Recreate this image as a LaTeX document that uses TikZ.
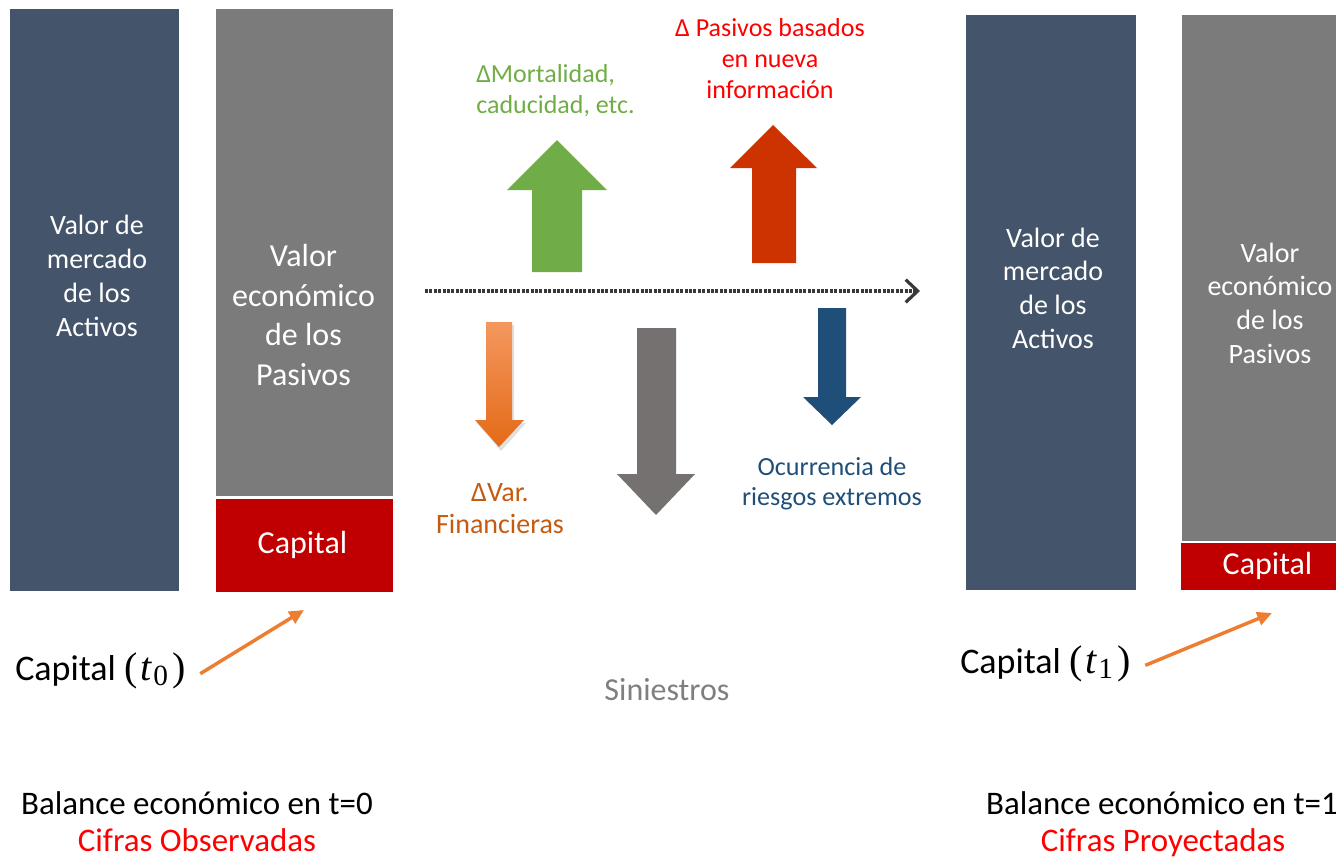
\documentclass[tikz,border=0pt]{standalone}
\usepackage{fontspec}
\setmainfont{Carlito}
\newfontfamily\mathlike{Liberation Serif}
\usetikzlibrary{arrows.meta}
\definecolor{slate}{HTML}{44546A}
\definecolor{pasgray}{HTML}{7B7B7B}
\definecolor{capred}{HTML}{C00000}
\definecolor{grn}{HTML}{70AD47}
\definecolor{redarr}{HTML}{CC3300}
\definecolor{bluearr}{HTML}{1F4E79}
\definecolor{grayarr}{HTML}{767171}
\definecolor{orlight}{HTML}{F4975F}
\definecolor{ordark}{HTML}{E46A17}
\definecolor{orlabel}{HTML}{C55A11}
\definecolor{orline}{HTML}{ED7D31}
\definecolor{sinigray}{HTML}{7F7F7F}
\definecolor{brightred}{HTML}{FF0000}
\newcommand{\tsub}[1]{{\mathlike\fontsize{30}{30}\selectfont(\kern2pt\textit{t}\kern1pt\raisebox{-0.28ex}{\fontsize{22}{22}\selectfont #1}\kern3pt)}}
\begin{document}
\begin{tikzpicture}[x=0.75pt,y=-0.75pt,
  bartext/.style={inner sep=0pt,align=center,text=white},
  lbl/.style={inner sep=0pt,align=center},
  capline/.style={draw=orline,line width=2.6pt,-{Triangle[length=11pt,width=10pt]}},
  timeline/.style={draw=black!78,line width=3pt,dash pattern=on 2.2pt off 1.1pt,
     -{Straight Barb[length=9pt,width=17pt,line width=2.4pt]}}
]
\useasboundingbox (0,0) rectangle (1336,858);

% ---- t = 0 balance ----
\fill[slate] (10,9) rectangle (179,591);
\node[bartext,font=\fontsize{21}{25.5}\selectfont] (actA) at (97,276) {Valor de\\mercado\\de los\\Activos};
\fill[pasgray] (216,9) rectangle (393,496);
\node[bartext,font=\fontsize{24}{29.6}\selectfont] (pasA) at (303.5,315) {Valor\\económico\\de los\\Pasivos};
\fill[capred] (216,499) rectangle (393,592);
\node[bartext,font=\fontsize{24}{28}\selectfont] (capA) at (302.5,545) {Capital};

% ---- t = 1 balance ----
\fill[slate] (966,15) rectangle (1136,590);
\node[bartext,font=\fontsize{21}{25.3}\selectfont] (actB) at (1053,288) {Valor de\\mercado\\de los\\Activos};
\fill[pasgray] (1182,15) rectangle (1336,541);
\node[bartext,font=\fontsize{21}{25.3}\selectfont] (pasB) at (1270,303) {Valor\\económico\\de los\\Pasivos};
\fill[capred] (1181,543) rectangle (1336,590);
\node[bartext,font=\fontsize{24}{28}\selectfont] (capB) at (1267.5,566) {Capital};

% ---- time line ----
\coordinate (tl0) at (425,291);
\coordinate (tl1) at (920,291);
\draw[timeline] (tl0) -- (tl1);

% ---- block arrows ----
\fill[grn] (532,272) -- (532,190) -- (507,190) -- (557,140) -- (607,190) -- (582,190) -- (582,272) -- cycle;
\fill[redarr] (752,263) -- (752,168) -- (730,168) -- (773,125) -- (817,168) -- (796,168) -- (796,263) -- cycle;
\fill[black,opacity=0.12] (488,325) -- (488,423) -- (477,423) -- (501,451) -- (526,423) -- (514,423) -- (514,325) -- cycle;
\shade[top color=orlight,bottom color=ordark] (486,322) -- (486,420) -- (475,420) -- (499,447) -- (524,420) -- (512,420) -- (512,322) -- cycle;
\fill[grayarr] (637,328) -- (637,474) -- (617,474) -- (656,515) -- (695,474) -- (676,474) -- (676,328) -- cycle;
\fill[bluearr] (818,308) -- (818,397) -- (803,397) -- (832,425) -- (861,397) -- (846,397) -- (846,308) -- cycle;

% ---- labels ----
\node[lbl,align=left,anchor=west,text=grn,font=\fontsize{19.5}{23.25}\selectfont] (mort) at (476,91) {ΔMortalidad,\\caducidad, etc.};
\node[lbl,text=brightred,font=\fontsize{19.5}{23.25}\selectfont] (pnueva) at (770,59) {Δ Pasivos basados\\en nueva\\información};
\node[lbl,text=orlabel,font=\fontsize{21}{24}\selectfont] (varfin) at (500,509) {ΔVar.\\Financieras};
\node[lbl,text=bluearr,font=\fontsize{19.6}{22.5}\selectfont] (ocurr) at (832,484) {Ocurrencia de\\riesgos extremos};
\node[lbl,text=sinigray,font=\fontsize{24}{28}\selectfont] (sini) at (667,690) {Siniestros};

% ---- capital pointers ----
\node[lbl,anchor=west,font=\fontsize{27}{32}\selectfont] (cap0) at (15,671) {Capital \tsub{0}};
\coordinate (cap0end) at (304,610);
\draw[capline] ([xshift=11pt,yshift=-2pt]cap0.east) -- (cap0end);
\node[lbl,anchor=west,font=\fontsize{27}{32}\selectfont] (cap1) at (960,664) {Capital \tsub{1}};
\coordinate (cap1end) at (1272,613);
\draw[capline] ([xshift=11pt,yshift=-1pt]cap1.east) -- (cap1end);

% ---- bottom captions ----
\node[lbl,anchor=base,font=\fontsize{24.7}{28.5}\selectfont] (bal0) at (197,814) {Balance económico en t=0};
\node[lbl,anchor=base,text=brightred,font=\fontsize{24.7}{28.5}\selectfont] (obs0) at (197,851) {Cifras Observadas};
\node[lbl,anchor=base,font=\fontsize{24.7}{28.5}\selectfont] (bal1) at (1162,814) {Balance económico en t=1};
\node[lbl,anchor=base,text=brightred,font=\fontsize{24.7}{28.5}\selectfont] (obs1) at (1163,851) {Cifras Proyectadas};
\end{tikzpicture}
\end{document}
